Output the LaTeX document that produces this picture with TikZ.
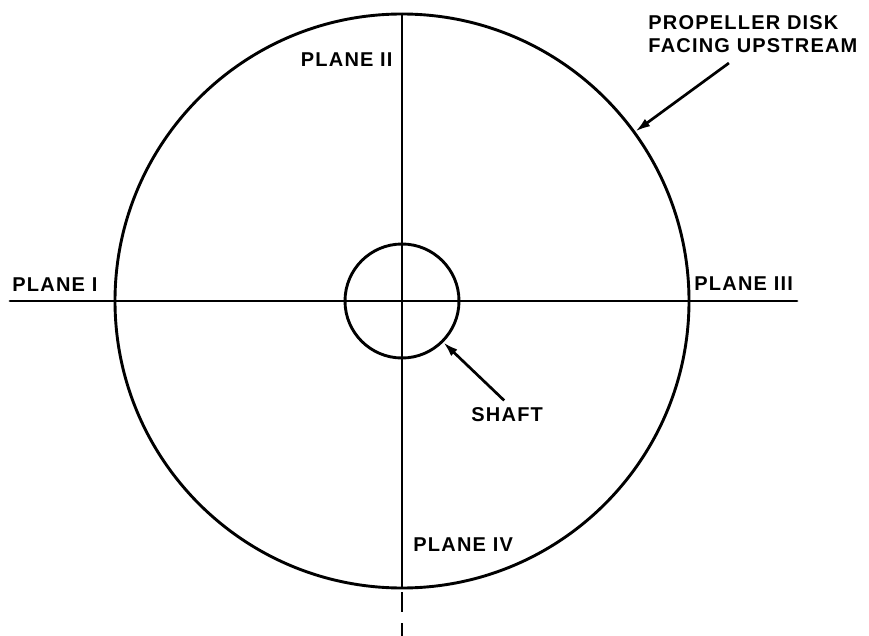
\documentclass[tikz,border=0pt]{standalone}
\usepackage{fontspec}
\newfontfamily\planefont[LetterSpace=6]{Liberation Sans}
\usepackage{tikz}
\usetikzlibrary{arrows.meta, positioning, calc}

\begin{document}
\begin{tikzpicture}[
    x=1pt, y=1pt,
    line width=2.9pt,
    every node/.style={inner sep=0pt, font=\planefont\bfseries\fontsize{20}{23}\selectfont},
    ring/.style={draw, circle, minimum size=#1},
    axis/.style={line cap=round},
    pointer/.style={draw, -{Latex[length=15pt, width=9pt]}, line width=2.7pt}
  ]
  \useasboundingbox (0,0) rectangle (869,-636);

  \coordinate (o) at (402,-301);
  \node[ring=574pt] (disk)  at (o) {};
  \node[ring=114pt] (shaft) at (o) {};

  % plane lines
  \coordinate (wl) at (10,-301);
  \coordinate (wr) at (797,-301);
  \coordinate (vb) at (402,-640);
  \draw[axis] (wl) -- (wr);
  \draw (disk.north) -- (disk.south);
  \draw[dash pattern=on 20pt off 11pt] ([yshift=-3pt]disk.south) -- (vb);

  \node[anchor=east]  (p2) at (394,-60)  {PLANE II};
  \node[anchor=west]  (p1) at (11,-285)  {PLANE I};
  \node[anchor=west]  (p3) at (693,-284) {PLANE III};
  \node[anchor=west]  (p4) at (412,-545) {PLANE IV};
  \node[anchor=west]  (sh) at (470,-415) {SHAFT};
  \node[anchor=north west, align=left] (prop) at (647,-14)
    {PROPELLER DISK\\FACING UPSTREAM};

  \draw[pointer] ([xshift=-24pt,yshift=-9pt]prop.south) -- (disk.36);
  \draw[pointer] ([xshift=-3pt,yshift=6pt]sh.north) -- (shaft.-45);
\end{tikzpicture}
\end{document}
